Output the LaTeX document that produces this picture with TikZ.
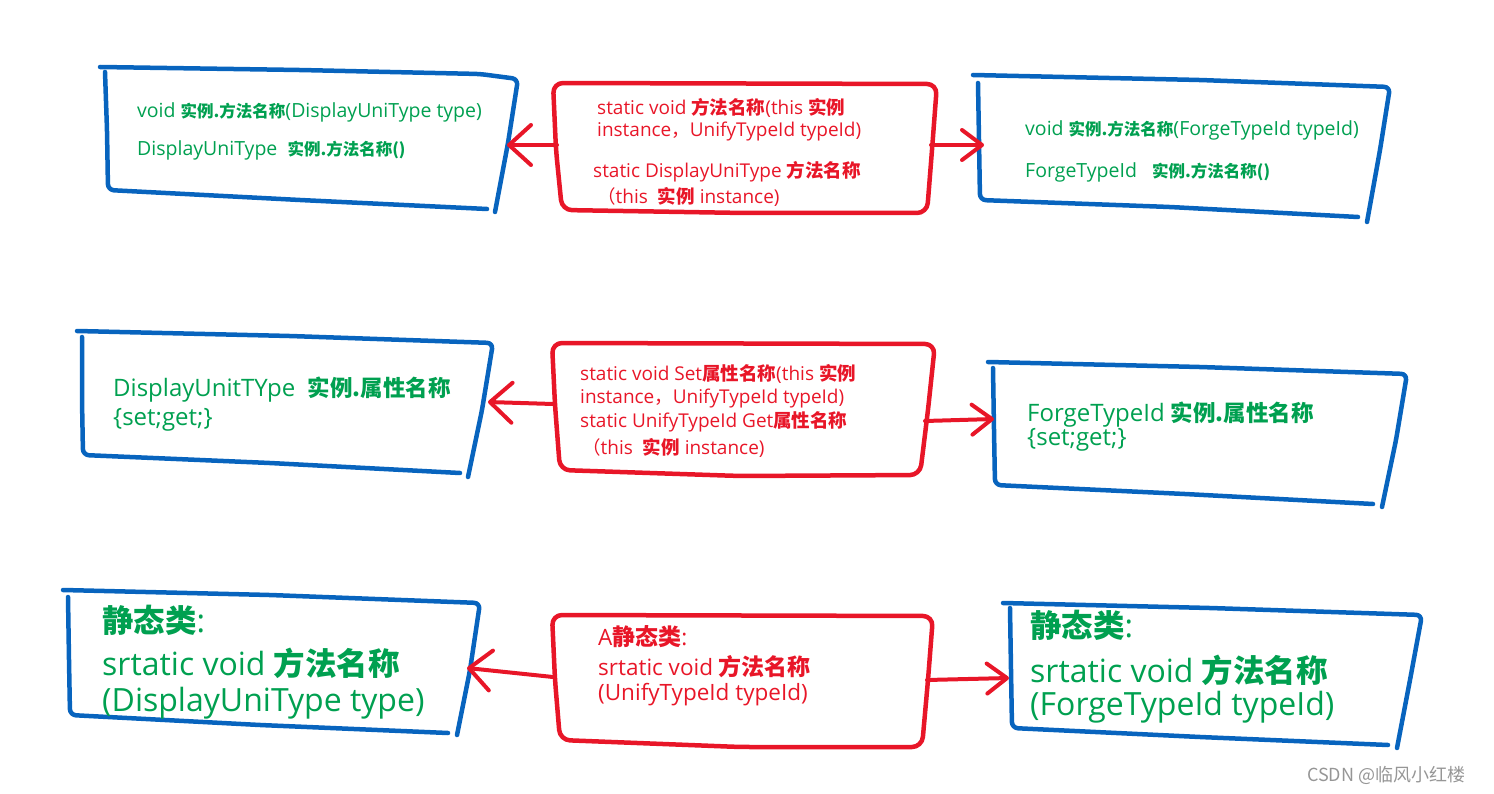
\documentclass[tikz,border=0pt]{standalone}
\usepackage{fontspec}
\setmainfont{Open Sans}
\newfontfamily\cjk{Noto Sans CJK SC}
\usetikzlibrary{arrows.meta}
\definecolor{tblue}{RGB}{8,100,190}
\definecolor{tred}{RGB}{232,22,40}
\definecolor{tgreen}{RGB}{0,160,80}
\definecolor{tgray}{RGB}{150,150,150}
\newcommand\zh[1]{{\cjk\bfseries\fontsize{\zhs}{\zhs}\selectfont #1}}
\newcommand\zhc[1]{{\cjk\fontsize{\zhs}{\zhs}\selectfont #1}}
\tikzset{
  t/.style={anchor=west, inner sep=0pt},
  gtxt/.style={t, text=tgreen},
  rtxt/.style={t, text=tred},
  fsA/.style={font=\fontsize{19.5}{19.5}\selectfont\def\zhs{16.5}},
  fsB/.style={font=\fontsize{19}{19}\selectfont\def\zhs{18.5}},
  fsC/.style={font=\fontsize{24}{24}\selectfont\def\zhs{22.5}},
  fsD/.style={font=\fontsize{22.5}{22.5}\selectfont\def\zhs{23}},
  fsE/.style={font=\fontsize{32}{32}\selectfont\def\zhs{31.5}},
  bstroke/.style={draw=tblue, line width=4.5pt, line cap=round, line join=round, rounded corners=6pt},
  rstroke/.style={draw=tred, line width=4.5pt, line cap=round, line join=round, rounded corners=10pt},
  conn/.style={draw=tred, line width=4pt, line cap=round, line join=round,
    -{Straight Barb[length=22pt, width=40pt, line cap=round, line join=round]}},
  connn/.style={draw=tred, line width=4pt, line cap=round, line join=round,
    -{Straight Barb[length=20pt, width=30pt, line cap=round, line join=round]}},
}
\begin{document}
\begin{tikzpicture}[x=1pt, y=-1pt]
\useasboundingbox (0,0) rectangle (1494,794);

% ---------- row 1 ----------
\draw[bstroke] (100,67) -- (300,70) -- (480,74) -- (518,79) -- (508,143) -- (495,212);
\draw[bstroke] (105,72) -- (107,130) -- (108,190) -- (300,200) -- (487,209);
\draw[rstroke] (553,83) -- (937,84) -- (932,150) -- (927,213) -- (745,213) -- (562,210) -- (556,150) -- cycle;
\draw[bstroke] (973,75) -- (1200,80) -- (1390,87) -- (1380,150) -- (1367,222);
\draw[bstroke] (978,83) -- (979,140) -- (980,200) -- (1170,207) -- (1358,217);

% ---------- row 2 ----------
\draw[bstroke] (77,331) -- (290,336) -- (493,343) -- (482,410) -- (468,477);
\draw[bstroke] (82,337) -- (82,400) -- (83,455) -- (270,463) -- (460,473);
\draw[rstroke] (552,343) -- (935,344) -- (928,410) -- (920,475) -- (740,476) -- (560,470) -- (555,405) -- cycle;
\draw[bstroke] (988,362) -- (1200,367) -- (1407,374) -- (1396,440) -- (1382,507);
\draw[bstroke] (993,368) -- (994,430) -- (995,485) -- (1185,494) -- (1373,504);

% ---------- row 3 ----------
\draw[bstroke] (63,590) -- (270,595) -- (480,603) -- (470,670) -- (457,735);
\draw[bstroke] (68,597) -- (69,660) -- (70,715) -- (260,725) -- (448,733);
\draw[rstroke] (552,615) -- (933,616) -- (928,680) -- (922,747) -- (740,747) -- (560,740) -- (555,680) -- cycle;
\draw[bstroke] (1003,603) -- (1210,608) -- (1422,615) -- (1410,680) -- (1397,748);
\draw[bstroke] (1010,608) -- (1011,670) -- (1012,728) -- (1200,737) -- (1388,745);

% ---------- connector end points ----------
\coordinate (r1L) at (557,145);  \coordinate (b1R) at (507,145);
\coordinate (r1R) at (931,145);  \coordinate (b2L) at (984,145);
\coordinate (r2L) at (553,404);  \coordinate (b3R) at (488,402);
\coordinate (r2R) at (925,421);  \coordinate (b4L) at (994,419);
\coordinate (r3L) at (553,677);  \coordinate (b5R) at (467,668);
\coordinate (r3R) at (927,680);  \coordinate (b6L) at (1009,678);

\draw[conn]  (r1L) -- (b1R);
\draw[connn] (r1R) -- (b2L);
\draw[conn]  (r2L) -- (b3R);
\draw[connn] (r2R) -- (b4L);
\draw[conn]  (r3L) -- (b5R);
\draw[connn] (r3R) -- (b6L);

% ---------- texts row 1 ----------
\node[gtxt, fsA] (b1a) at (137,112) {void \zh{实例.方法名称}(DisplayUniType type)};
\node[gtxt, fsA] (b1b) at (137,150) {DisplayUniType\ \ \zh{实例.方法名称()}};
\node[rtxt, fsB] (r1a) at (597,108) {static void \zh{方法名称}(this \zh{实例}};
\node[rtxt, fsB] (r1b) at (597,132) {instance\zhc{，}UnifyTypeId typeId)};
\node[rtxt, fsB] (r1c) at (593,172) {static DisplayUniType \zh{方法名称}};
\node[rtxt, fsB] (r1d) at (597,197) {\zhc{（}this\ \ \zh{实例} instance)};
\node[gtxt, fsA] (b2a) at (1025,130) {void \zh{实例.方法名称}(ForgeTypeId typeId)};
\node[gtxt, fsA] (b2b) at (1025,172) {ForgeTypeId\ \ \ \zh{实例.方法名称()}};

% ---------- texts row 2 ----------
\node[gtxt, fsC] (b3a) at (113,390) {DisplayUnitTYpe\ \ \zh{实例.属性名称}};
\node[gtxt, fsC] (b3b) at (113,420) {\{set;get;\}};
\node[rtxt, fsB] (r2a) at (580,374) {static void Set\zh{属性名称}(this \zh{实例}};
\node[rtxt, fsB] (r2b) at (580,399) {instance\zhc{，}UnifyTypeId typeId)};
\node[rtxt, fsB] (r2c) at (580,422) {static UnifyTypeId Get\zh{属性名称}};
\node[rtxt, fsB] (r2d) at (582,448) {\zhc{（}this\ \ \zh{实例} instance)};
\node[gtxt, fsC] (b4a) at (1027,415) {ForgeTypeId \zh{实例.属性名称}};
\node[gtxt, fsC] (b4b) at (1027,440) {\{set;get;\}};

% ---------- texts row 3 ----------
\node[gtxt, fsE] (b5a) at (102,620) {\zh{静态类}:};
\node[gtxt, fsE] (b5b) at (102,663) {srtatic void \zh{方法名称}};
\node[gtxt, fsE] (b5c) at (102,703) {(DisplayUniType type)};
\node[rtxt, fsD] (r3a) at (598,637) {A\zh{静态类}:};
\node[rtxt, fsD] (r3b) at (598,667) {srtatic void \zh{方法名称}};
\node[rtxt, fsD] (r3c) at (598,695) {(UnifyTypeId typeId)};
\node[gtxt, fsE] (b6a) at (1030,625) {\zh{静态类}:};
\node[gtxt, fsE] (b6b) at (1030,670) {srtatic void \zh{方法名称}};
\node[gtxt, fsE] (b6c) at (1030,707) {(ForgeTypeId typeId)};

% watermark
\node[t, text=tgray, font=\cjk\fontsize{18}{18}\selectfont] (wm) at (1307,775) {CSDN @临风小红楼};
\end{tikzpicture}
\end{document}
